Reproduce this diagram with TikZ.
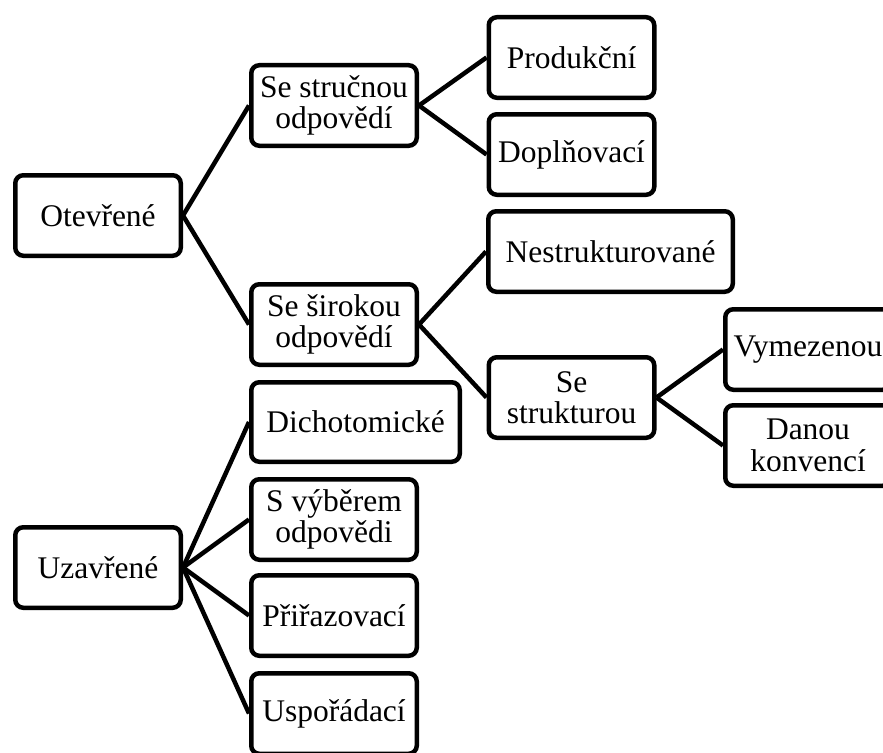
\documentclass[tikz,border=0pt]{standalone}
\usepackage{fontspec}
\newfontfamily\boxfont{Liberation Serif}
\begin{document}
\begin{tikzpicture}[x=1pt,y=-1pt,
  box/.style={draw=black, line width=4.5pt, rounded corners=8pt, fill=white,
    minimum width=165.5pt, minimum height=80.5pt, inner sep=0pt, align=center,
    font=\boxfont\fontsize{31.5}{31.5}\selectfont},
  link/.style={draw=black, line width=4.5pt}]
\useasboundingbox (0,0) rectangle (883,752);
\node[box] (otev) at (98,215.5) {Otevřené};
\node[box] (sestr) at (334,105.5) {Se stručnou\\odpovědí};
\node[box] (sesir) at (334,324.5) {Se širokou\\odpovědí};
\node[box] (prod) at (571.5,57.5) {Produkční};
\node[box] (dopl) at (571.5,154.5) {Doplňovací};
\node[box, minimum width=244.5pt] (nestr) at (610.5,251.5) {Nestrukturované};
\node[box] (sestruk) at (571.5,397.5) {Se\\strukturou};
\node[box] (vym) at (808,349.5) {Vymezenou};
\node[box] (danou) at (808,445.5) {Danou\\konvencí};
\node[box] (uzav) at (98,567.5) {Uzavřené};
\node[box, minimum width=208.5pt, minimum height=79.5pt] (dich) at (355.5,422) {Dichotomické};
\node[box] (svyb) at (334,519.5) {S výběrem\\odpovědi};
\node[box] (prir) at (334,615.5) {Přiřazovací};
\node[box] (uspo) at (334,713.5) {Uspořádací};
\draw[link] (otev.east) -- (sestr.west);
\draw[link] (otev.east) -- (sesir.west);
\draw[link] (sestr.east) -- (prod.west);
\draw[link] (sestr.east) -- (dopl.west);
\draw[link] (sesir.east) -- (nestr.west);
\draw[link] (sesir.east) -- (sestruk.west);
\draw[link] (sestruk.east) -- (vym.west);
\draw[link] (sestruk.east) -- (danou.west);
\draw[link] (uzav.east) -- (dich.west);
\draw[link] (uzav.east) -- (svyb.west);
\draw[link] (uzav.east) -- (prir.west);
\draw[link] (uzav.east) -- (uspo.west);
\end{tikzpicture}
\end{document}
